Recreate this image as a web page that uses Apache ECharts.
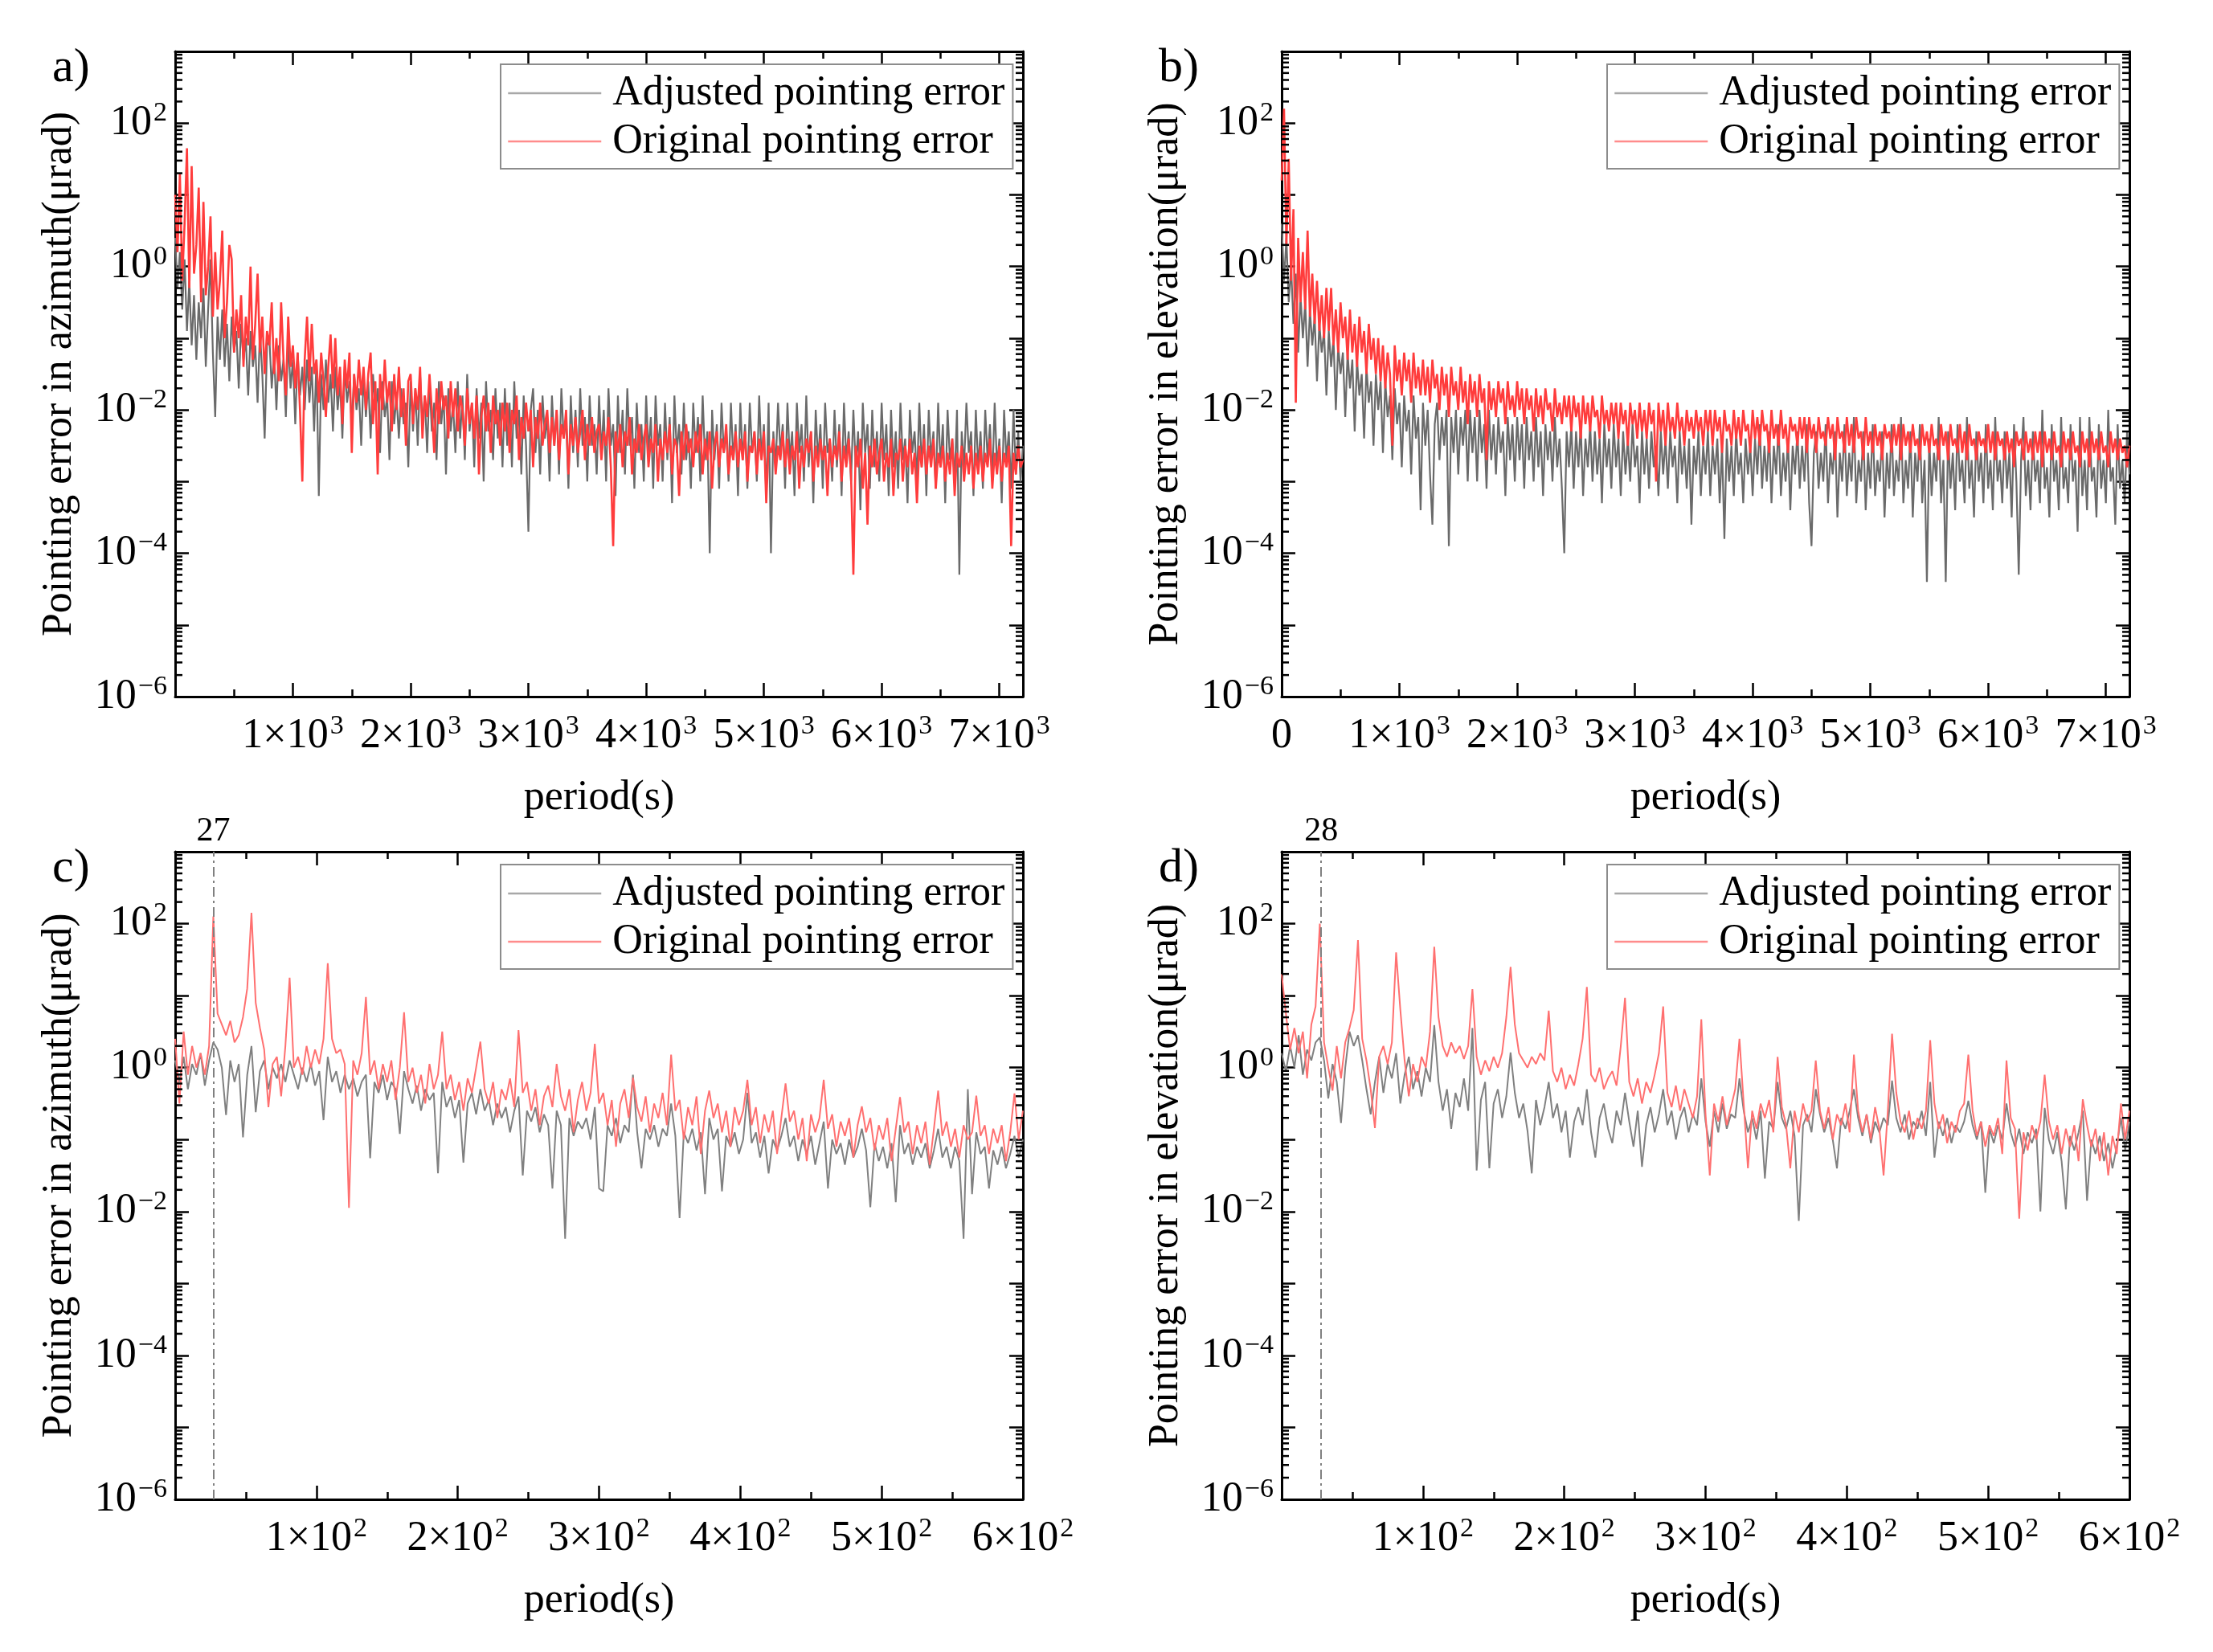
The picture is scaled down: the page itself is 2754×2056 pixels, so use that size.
<!DOCTYPE html>
<html>
<head>
<meta charset="utf-8">
<script src="https://cdn.jsdelivr.net/npm/echarts/dist/echarts.min.js"></script>
<style>
html,body{margin:0;padding:0;background:#fff}
#chart{width:2754px;height:2056px}
</style>
</head>
<body>
<div id="chart"></div>
<script>
var FONT = 'Liberation Serif';

// sample spacing of the spectra (s)
var longStep = 20;
var shortStep = 3;

// log10 of the pointing error (µrad)
// a) azimuth, 0..7200 s
var aAdjLog = [
0.4,-0.3,0.2,-0.6,0.1,-0.9,-0.2,-1.1,-0.4,-1.3,-0.5,-1.0,-0.3,-1.4,-0.6,0.1,-1.2,-2.1,-0.7,-1.3,
-0.6,-1.4,-0.8,-1.6,-0.7,-1.2,-0.9,-1.7,-0.8,-1.3,-1.0,-1.8,-0.9,-1.4,-1.1,-1.9,-0.9,-1.5,-2.4,-1.1,
-1.0,-1.7,-1.2,-2.0,-1.1,-1.6,-1.3,-2.1,-1.0,-1.7,-1.3,-2.2,-1.2,-1.8,-1.4,-2.0,-1.3,-1.9,-1.4,-2.3,
-1.3,-3.2,-1.5,-2.0,-1.3,-1.9,-1.5,-2.3,-1.4,-2.0,-1.6,-2.4,-1.4,-1.9,-1.6,-2.2,-1.5,-2.0,-1.7,-2.5,
-1.5,-2.1,-1.6,-2.4,-1.5,-2.0,-1.7,-2.6,-1.6,-2.1,-1.8,-2.7,-1.6,-2.2,-1.8,-2.4,-1.7,-2.2,-1.9,-2.8,
-1.6,-2.3,-1.7,-2.5,-1.5,-2.2,-1.8,-2.6,-1.6,-2.3,-1.9,-2.7,-1.6,-2.2,-1.8,-2.9,-1.7,-2.3,-1.9,-2.6,
-1.6,-2.4,-1.8,-2.7,-1.5,-2.3,-1.9,-2.8,-1.7,-2.4,-1.9,-3.0,-1.6,-2.3,-2.0,-2.7,-1.7,-2.4,-1.9,-2.8,
-1.7,-2.5,-1.9,-2.8,-1.6,-2.4,-2.0,-2.9,-1.8,-2.5,-3.7,-2.0,-1.7,-2.6,-2.0,-2.9,-1.8,-2.4,-2.1,-3.0,
-1.8,-2.5,-2.0,-2.9,-1.7,-2.4,-2.1,-3.1,-1.8,-2.6,-2.0,-2.8,-1.7,-2.5,-2.1,-3.0,-1.8,-2.5,-2.2,-2.9,
-1.8,-2.6,-2.0,-3.0,-1.7,-2.5,-2.2,-3.2,-1.8,-2.6,-2.0,-2.9,-1.7,-2.5,-2.1,-3.1,-1.9,-2.6,-2.2,-3.0,
-1.8,-2.6,-2.1,-3.1,-1.8,-2.5,-2.2,-3.0,-1.9,-2.7,-2.1,-3.3,-1.8,-2.6,-2.2,-2.9,-1.9,-2.7,-2.3,-3.1,
-1.9,-2.6,-2.1,-3.0,-1.8,-2.7,-2.3,-4.0,-2.0,-2.7,-2.2,-3.1,-1.9,-2.6,-2.3,-3.0,-1.9,-2.7,-2.2,-3.2,
-1.9,-2.7,-2.2,-3.1,-1.9,-2.6,-2.3,-3.0,-1.8,-2.7,-2.2,-3.2,-1.9,-4.0,-2.3,-2.8,-1.9,-2.6,-2.2,-3.1,
-1.9,-2.7,-2.3,-3.2,-1.9,-2.6,-2.2,-3.0,-1.8,-2.8,-2.3,-3.3,-2.0,-2.7,-2.2,-3.1,-1.9,-2.6,-2.4,-3.0,
-2.0,-2.8,-2.2,-3.2,-1.9,-2.7,-2.3,-3.0,-2.0,-2.8,-2.3,-3.4,-1.9,-2.6,-2.2,-3.1,-2.0,-2.8,-2.3,-3.0,
-1.9,-2.7,-2.2,-3.2,-2.0,-2.8,-2.3,-3.1,-1.9,-2.7,-2.4,-3.3,-2.0,-2.6,-2.3,-3.0,-1.9,-2.8,-2.2,-3.2,
-2.0,-2.7,-2.3,-3.1,-1.9,-2.8,-2.2,-3.3,-2.0,-2.7,-2.4,-3.0,-2.0,-4.3,-2.3,-2.8,-1.9,-2.6,-2.3,-3.2,
-2.0,-2.8,-2.3,-3.1,-2.0,-2.7,-2.2,-3.0,-1.9,-2.8,-2.4,-3.3,-2.0,-2.7,-2.3,-3.1,-2.0,-2.9,-2.3,-3.0,
-2.5
];
var aOrigLog = [
1.0,0.2,1.3,-0.2,0.6,1.65,-0.3,1.4,-0.1,0.3,1.1,-0.5,0.9,-0.4,0.0,0.7,-0.7,0.2,-0.6,-0.2,
0.5,-1.0,-0.5,0.3,0.1,-1.2,-0.6,-1.0,-0.4,-1.4,-0.7,-1.1,0.0,-1.3,-0.8,-0.1,-1.2,-0.7,-1.5,-0.9,
-1.1,-0.5,-1.5,-1.0,-1.6,-0.5,-1.3,-1.8,-0.7,-1.4,-1.1,-1.7,-1.2,-2.0,-3.0,-1.3,-0.7,-1.6,-0.8,-1.5,
-1.3,-1.9,-1.2,-1.6,-2.1,-1.4,-0.95,-1.7,-1.0,-1.8,-1.4,-2.2,-1.3,-1.7,-1.2,-2.6,-1.5,-1.9,-1.3,-1.8,
-1.4,-2.0,-1.5,-1.2,-2.2,-1.6,-2.9,-1.5,-2.0,-1.3,-1.9,-1.6,-2.3,-1.5,-2.0,-1.4,-2.1,-1.7,-2.5,-1.6,
-1.5,-2.2,-1.7,-2.0,-1.4,-2.4,-1.8,-2.1,-1.5,-2.0,-2.6,-1.7,-2.2,-1.6,-2.0,-1.8,-2.4,-1.6,-2.1,-1.7,
-2.3,-1.8,-2.0,-2.5,-1.7,-2.2,-1.9,-2.4,-1.8,-2.9,-2.1,-1.8,-2.3,-1.9,-2.6,-1.8,-2.2,-2.0,-2.5,-1.9,
-2.3,-1.9,-2.6,-2.0,-2.2,-1.8,-2.7,-2.1,-2.4,-1.9,-2.3,-2.0,-2.8,-2.1,-2.4,-1.9,-2.5,-2.2,-2.0,-2.6,
-2.1,-2.5,-2.0,-2.7,-2.2,-2.4,-2.0,-2.9,-2.2,-2.5,-2.1,-2.6,-2.3,-2.0,-2.7,-2.2,-2.5,-2.1,-2.6,-2.3,
-2.2,-2.7,-2.3,-2.5,-2.1,-2.8,-3.9,-2.3,-2.6,-2.2,-2.8,-2.3,-2.5,-2.1,-2.9,-2.4,-2.6,-2.2,-2.7,-2.4,
-2.2,-2.8,-2.4,-2.6,-2.2,-3.0,-2.4,-2.7,-2.3,-2.6,-2.2,-2.9,-2.4,-2.5,-3.2,-2.3,-2.7,-2.2,-2.6,-2.4,
-2.8,-2.3,-2.6,-2.2,-2.9,-2.4,-2.7,-2.3,-3.1,-2.5,-2.3,-2.8,-2.4,-2.6,-2.2,-2.9,-2.5,-2.7,-2.3,-2.8,
-2.4,-2.7,-2.3,-3.0,-2.5,-2.6,-2.3,-2.9,-2.4,-2.7,-2.3,-3.3,-2.5,-2.6,-2.4,-2.9,-2.5,-2.7,-2.3,-2.8,
-2.4,-2.9,-2.5,-2.7,-2.3,-3.1,-2.5,-2.8,-2.4,-2.6,-2.3,-3.0,-2.5,-2.8,-2.4,-2.7,-2.5,-3.2,-2.4,-2.8,
-2.5,-2.7,-2.3,-3.0,-2.5,-2.8,-2.4,-2.9,-4.3,-2.5,-2.8,-2.4,-3.1,-2.6,-3.6,-2.5,-2.8,-2.4,-2.9,-2.6,
-2.4,-3.0,-2.6,-2.8,-2.4,-3.2,-2.6,-2.7,-2.4,-3.0,-2.5,-2.8,-2.4,-2.9,-2.6,-3.3,-2.5,-2.8,-2.4,-2.9,
-2.5,-2.8,-2.4,-3.1,-2.6,-2.8,-2.5,-3.0,-2.6,-2.9,-2.4,-3.2,-2.6,-2.8,-2.5,-3.0,-2.6,-2.9,-2.5,-3.1,
-2.6,-2.9,-2.5,-3.0,-2.6,-2.8,-2.4,-3.1,-2.6,-2.9,-2.5,-3.0,-2.6,-2.8,-2.5,-3.9,-2.6,-2.9,-2.5,-2.8,
-2.7
];
// b) elevation, 0..7200 s
var bAdjLog = [
0.6,-0.2,0.4,-0.5,0.0,-0.8,-0.1,-1.2,-0.4,-1.0,-0.5,-1.4,-0.6,-1.1,-0.7,-1.6,-0.8,-1.2,-0.9,-1.8,
-0.9,-1.4,-1.0,-2.0,-1.1,-1.5,-1.2,-2.1,-1.2,-1.7,-1.3,-2.3,-1.3,-1.8,-1.5,-2.4,-1.4,-1.9,-1.6,-2.5,
-1.5,-2.0,-1.6,-2.6,-1.6,-2.1,-1.8,-2.7,-1.7,-2.2,-1.9,-2.8,-1.8,-2.3,-2.0,-2.9,-1.8,-2.4,-2.1,-3.4,
-1.9,-2.5,-2.0,-2.9,-3.6,-2.2,-1.9,-2.7,-2.1,-2.5,-2.0,-3.9,-2.1,-2.6,-2.0,-2.9,-2.1,-2.5,-2.0,-3.0,
-2.0,-2.6,-2.1,-3.0,-2.0,-2.6,-2.2,-3.1,-2.0,-2.7,-2.2,-2.9,-2.1,-2.6,-2.3,-3.2,-2.1,-2.7,-2.2,-3.0,
-2.1,-2.7,-2.2,-3.1,-2.1,-2.7,-2.3,-3.0,-2.1,-2.8,-2.3,-3.2,-2.2,-2.7,-2.3,-3.0,-2.1,-2.8,-2.4,-3.1,
-4.0,-2.3,-2.8,-2.2,-3.1,-2.3,-2.8,-2.2,-3.2,-2.4,-2.8,-2.2,-3.0,-2.3,-2.9,-2.4,-3.3,-2.2,-2.8,-2.4,
-3.1,-2.2,-2.8,-2.4,-3.2,-2.3,-2.9,-2.4,-3.0,-2.2,-2.8,-2.5,-3.3,-2.3,-2.9,-2.4,-3.1,-2.3,-2.8,-2.5,
-3.2,-2.3,-2.9,-2.4,-3.1,-2.3,-2.8,-2.5,-3.3,-2.3,-2.9,-2.5,-3.1,-2.4,-3.6,-2.5,-2.9,-2.3,-3.2,-2.5,
-2.9,-2.3,-3.2,-2.5,-2.9,-2.4,-3.3,-2.5,-3.8,-2.4,-3.0,-2.5,-3.2,-2.3,-2.9,-2.6,-3.3,-2.4,-2.9,-2.5,
-3.2,-2.4,-2.9,-2.2,-3.1,-2.5,-3.0,-2.3,-3.3,-2.5,-2.9,-2.2,-3.2,-2.6,-3.0,-2.4,-3.4,-2.5,-2.9,-2.3,
-3.1,-2.5,-3.0,-2.2,-3.3,-3.9,-2.6,-2.3,-3.1,-2.6,-3.0,-2.2,-3.3,-2.6,-2.9,-2.3,-3.5,-2.6,-3.0,-2.2,
-3.2,-2.6,-3.0,-2.1,-3.3,-2.7,-3.0,-2.3,-3.4,-2.6,-3.1,-2.2,-3.2,-2.7,-3.0,-2.3,-3.5,-2.6,-3.1,-2.2,
-3.2,-2.7,-3.0,-2.1,-3.3,-2.7,-3.1,-2.3,-3.5,-2.6,-3.0,-2.2,-3.3,-2.7,-4.4,-2.4,-3.2,-2.6,-3.0,-2.1,
-3.3,-2.7,-4.4,-2.3,-3.1,-2.6,-3.4,-2.2,-3.0,-2.7,-3.3,-2.1,-3.1,-2.7,-3.5,-2.3,-3.0,-2.6,-3.3,-2.2,
-3.1,-2.7,-3.4,-2.1,-3.0,-2.7,-3.3,-2.3,-3.1,-2.6,-3.5,-2.2,-3.0,-4.3,-2.7,-2.1,-3.2,-2.7,-3.4,-2.3,
-3.0,-2.7,-3.3,-2.0,-3.1,-2.8,-3.5,-2.2,-3.0,-2.7,-3.4,-2.1,-3.1,-2.8,-3.3,-2.2,-3.0,-2.7,-3.7,-2.1,
-3.2,-2.7,-3.4,-2.1,-3.0,-2.8,-3.5,-2.2,-3.1,-2.7,-3.3,-2.0,-3.0,-2.8,-3.6,-2.2,-3.1,-2.7,-3.3,-2.3,
-2.9
];
var bOrigLog = [
1.2,2.2,0.3,1.5,-0.2,0.8,-1.9,0.4,-0.5,0.2,-0.6,0.5,-0.7,-0.1,-0.8,-0.2,-0.9,-0.4,-1.0,-0.3,
-0.9,-0.3,-1.1,-0.6,-1.2,-0.5,-1.0,-0.7,-1.3,-0.6,-1.2,-0.8,-1.4,-0.7,-1.2,-0.9,-1.5,-0.8,-1.3,-1.0,
-1.5,-1.0,-1.6,-1.1,-1.7,-1.2,-1.5,-2.5,-1.1,-1.6,-1.3,-1.8,-1.2,-1.6,-1.3,-1.9,-1.2,-1.7,-1.4,-1.8,
-1.3,-1.8,-1.4,-1.9,-1.3,-1.7,-1.5,-2.0,-1.4,-1.8,-1.5,-2.1,-1.4,-1.8,-1.6,-2.0,-1.4,-1.9,-1.6,-2.2,
-1.5,-1.9,-1.6,-2.1,-1.5,-1.9,-1.7,-2.7,-1.6,-2.0,-1.7,-2.1,-1.6,-1.9,-1.7,-2.2,-1.6,-2.0,-1.8,-2.1,
-1.6,-2.0,-1.7,-2.2,-1.7,-2.0,-1.8,-2.3,-1.7,-2.1,-1.8,-2.2,-1.7,-2.0,-1.9,-2.3,-1.7,-2.1,-1.9,-2.2,
-1.8,-2.1,-1.8,-2.3,-1.8,-2.1,-1.9,-2.4,-1.8,-2.2,-1.9,-2.3,-1.8,-2.1,-2.0,-2.4,-1.8,-2.2,-2.0,-2.3,
-1.9,-2.2,-1.9,-2.4,-1.9,-2.2,-2.0,-2.5,-1.9,-2.2,-2.0,-2.4,-1.9,-2.3,-2.0,-2.4,-1.9,-2.2,-2.0,-3.0,
-1.9,-2.3,-2.0,-2.5,-1.9,-2.3,-2.1,-2.4,-1.9,-2.3,-2.1,-2.5,-2.0,-2.3,-2.1,-2.4,-2.0,-2.3,-2.1,-2.5,
-2.0,-2.3,-2.0,-2.5,-2.0,-2.3,-2.1,-2.6,-2.0,-2.3,-2.2,-2.5,-2.0,-2.4,-2.1,-2.5,-2.0,-2.3,-2.2,-2.6,
-2.0,-2.4,-2.1,-2.5,-2.0,-2.3,-2.2,-2.6,-2.0,-2.4,-2.2,-2.5,-2.0,-2.4,-2.2,-2.6,-2.1,-2.3,-2.2,-2.5,
-2.1,-2.4,-2.1,-2.6,-2.1,-2.4,-2.2,-2.6,-2.1,-2.4,-2.3,-2.5,-2.1,-2.4,-2.2,-2.7,-2.1,-2.4,-2.3,-2.6,
-2.1,-2.5,-2.2,-2.6,-2.1,-2.4,-2.3,-2.7,-2.1,-2.5,-2.3,-2.6,-2.2,-2.5,-2.3,-2.7,-2.2,-2.4,-2.3,-2.6,
-2.2,-2.5,-2.2,-2.7,-2.2,-2.5,-2.3,-2.6,-2.2,-2.5,-2.4,-2.7,-2.2,-2.5,-2.3,-2.6,-2.2,-2.5,-2.4,-2.7,
-2.2,-2.5,-2.3,-2.7,-2.2,-2.5,-2.4,-2.6,-2.2,-2.6,-2.3,-2.7,-2.2,-2.5,-2.4,-2.7,-2.3,-2.5,-2.4,-2.6,
-2.2,-2.6,-2.3,-2.7,-2.3,-2.5,-2.4,-2.7,-2.3,-2.6,-2.4,-2.8,-2.3,-2.5,-2.4,-2.7,-2.3,-2.6,-2.4,-2.7,
-2.3,-2.6,-2.3,-2.8,-2.3,-2.6,-2.4,-2.7,-2.3,-2.6,-2.5,-2.8,-2.3,-2.6,-2.4,-2.7,-2.3,-2.6,-2.5,-2.8,
-2.3,-2.6,-2.4,-2.8,-2.3,-2.6,-2.4,-2.7,-2.3,-2.6,-2.5,-2.8,-2.3,-2.6,-2.4,-2.7,-2.4,-2.6,-2.5,-2.8,
-2.5
];
// c) azimuth, 0..600 s
var cAdjLog = [
0.1,-0.2,0.15,-0.3,0.05,-0.1,0.2,-0.25,0.1,
0.35,0.25,0.0,-0.66,0.1,-0.2,0.05,-0.97,-0.1,
0.3,-0.62,-0.05,0.1,-0.3,0.0,-0.15,0.05,-0.2,
0.1,-0.1,-0.3,0.0,-0.2,0.05,-0.25,-0.05,-0.73,
0.15,-0.2,-0.05,-0.35,-0.1,-0.3,-0.15,-0.4,-0.2,
-0.1,-1.26,-0.2,-0.35,-0.1,-0.45,-0.2,-0.3,-0.92,
-0.05,-0.3,-0.5,-0.25,-0.6,-0.3,-0.45,-0.35,-1.47,
-0.2,-0.55,-0.4,-0.7,-0.45,-1.32,-0.5,-0.35,-0.65,
-0.3,-0.6,-0.45,-0.8,-0.5,-0.7,-0.55,-0.9,-0.6,
-0.4,-1.5,-0.6,-0.75,-0.55,-0.9,-0.65,-0.8,-1.68,
-0.6,-0.8,-2.38,-0.7,-0.95,-0.75,-0.85,-0.7,-1.0,
-0.55,-1.68,-1.72,-0.8,-0.95,-0.7,-1.05,-0.8,-0.9,
-0.1,-0.9,-1.4,-0.85,-1.0,-0.8,-1.1,-0.85,-0.95,
-0.5,-0.95,-2.09,-0.9,-1.05,-0.85,-1.15,-0.9,-1.76,
-0.7,-1.0,-0.85,-1.72,-0.95,-1.1,-0.9,-1.2,-1.0,
-0.35,-1.05,-0.9,-1.25,-0.95,-1.47,-1.0,-1.15,-0.95,
-0.7,-1.1,-0.95,-1.3,-1.0,-1.2,-0.95,-1.35,-1.05,
-0.75,-1.68,-1.0,-1.2,-1.05,-1.35,-1.0,-1.25,-1.1,
-0.85,-1.15,-1.94,-1.05,-1.3,-1.1,-1.4,-1.05,-1.87,
-0.8,-1.2,-1.05,-1.35,-1.1,-1.25,-1.05,-1.4,-1.15,
-0.85,-1.25,-1.1,-1.4,-1.1,-1.3,-2.38,-0.3,-1.76,
-0.9,-1.2,-1.1,-1.68,-1.15,-1.35,-1.1,-1.4,-1.2,
-0.95,-1.25,-1.0
];
var cOrigLog = [
0.4,-0.5,0.5,-0.1,0.3,0.0,0.2,-0.1,0.3,
2.1,0.75,0.6,0.45,0.65,0.35,0.45,0.7,1.1,
2.15,0.9,0.55,0.25,-0.55,0.05,0.15,-0.4,0.3,
1.25,0.0,0.15,-0.1,0.3,0.0,0.25,0.05,0.4,
1.45,0.4,0.2,0.25,0.05,-1.95,0.1,-0.1,0.2,
0.98,-0.1,0.1,-0.3,0.05,-0.2,0.1,-0.45,0.0,
0.77,-0.2,0.0,-0.35,-0.1,-0.5,0.05,-0.3,-0.1,
0.5,-0.3,-0.1,-0.45,-0.2,-0.6,-0.15,-0.35,0.0,
0.36,-0.3,-0.5,-0.2,-0.7,-0.3,-0.45,-0.15,-0.55,
0.52,-0.35,-0.2,-0.6,-0.3,-0.8,-0.4,-0.25,-0.55,
0.05,-0.4,-0.6,-0.3,-0.9,-0.45,-0.2,-0.6,-0.35,
0.33,-0.5,-0.35,-0.8,-0.45,-1.1,-0.5,-0.3,-0.7,
-0.14,-0.55,-0.75,-0.4,-0.9,-0.5,-0.7,-0.35,-0.8,
0.18,-0.6,-0.45,-1.0,-0.55,-0.8,-0.4,-1.2,-0.6,
-0.32,-0.7,-0.5,-0.9,-0.6,-1.1,-0.55,-0.8,-0.6,
-0.17,-0.8,-0.55,-1.05,-0.65,-0.9,-0.6,-1.2,-0.7,
-0.22,-0.75,-0.6,-1.0,-0.7,-1.3,-0.65,-0.9,-0.7,
-0.17,-0.85,-0.65,-1.1,-0.75,-0.95,-0.7,-1.25,-0.8,
-0.54,-0.9,-0.7,-1.15,-0.8,-1.0,-0.7,-1.3,-0.85,
-0.41,-0.9,-0.75,-1.2,-0.8,-1.05,-0.75,-1.35,-0.85,
-0.32,-0.95,-0.75,-1.1,-0.85,-1.25,-0.8,-1.0,-0.9,
-0.39,-0.95,-0.8,-1.2,-0.85,-1.05,-0.8,-1.3,-0.9,
-0.36,-1.0,-0.6
];
// d) elevation, 0..600 s
var dAdjLog = [
0.2,-0.05,0.3,0.0,0.45,-0.1,0.25,0.1,0.35,
0.42,0.1,-0.43,0.05,-0.2,-0.77,0.0,0.5,0.3,
0.45,0.1,-0.3,-0.65,-0.2,0.15,-0.35,0.05,-0.15,
0.2,-0.5,-0.1,0.15,-0.3,-0.05,-0.4,0.0,-0.2,
0.59,-0.2,-0.6,-0.3,-0.85,-0.35,-0.55,-0.15,-0.6,
0.55,-1.43,-0.45,-0.2,-1.4,-0.5,-0.3,-0.7,-0.4,
0.21,-0.35,-0.7,-0.5,-0.88,-1.47,-0.45,-0.8,-0.55,
-0.2,-0.7,-0.5,-0.9,-0.6,-1.25,-0.75,-0.55,-0.8,
-0.3,-0.9,-1.25,-0.7,-0.5,-0.85,-1.05,-0.6,-0.8,
-0.35,-0.75,-1.1,-0.6,-1.38,-0.8,-0.55,-0.9,-0.65,
-0.3,-0.8,-0.6,-1.0,-0.7,-0.55,-0.9,-0.65,-0.8,
-0.15,-0.75,-1.1,-0.6,-0.9,-0.5,-0.85,-0.65,-0.7,
-0.15,-0.6,-0.9,-0.7,-1.0,-0.6,-1.54,-0.75,-0.85,
-0.2,-0.7,-0.85,-0.6,-0.95,-2.13,-0.8,-0.65,-0.9,
-0.3,-0.65,-0.9,-0.7,-1.0,-1.4,-0.7,-0.85,-0.6,
-0.3,-0.7,-0.95,-0.65,-1.05,-0.75,-0.9,-0.7,-0.8,
-0.18,-0.7,-0.9,-0.65,-1.0,-0.75,-0.85,-0.6,-0.95,
-0.2,-1.25,-0.75,-0.95,-0.7,-1.05,-0.8,-0.9,-0.75,
-0.46,-0.8,-1.0,-0.75,-1.74,-0.85,-1.05,-0.8,-1.0,
-0.5,-0.9,-1.1,-0.85,-1.2,-0.9,-1.05,-0.85,-2.0,
-0.56,-1.0,-1.2,-0.9,-1.3,-1.97,-0.95,-1.15,-0.9,
-0.6,-1.85,-1.0,-1.2,-0.95,-1.3,-1.05,-1.4,-1.1,
-0.7,-1.15,-0.75
];
var dOrigLog = [
1.3,0.75,0.25,0.55,0.2,0.5,-0.15,0.6,0.85,
2.0,0.35,0.0,-0.32,0.3,-0.15,0.35,0.55,0.8,
1.77,0.4,0.1,-0.3,-0.84,0.15,0.3,0.05,0.35,
1.6,0.8,0.1,-0.4,0.05,-0.2,0.15,0.0,0.5,
1.68,0.7,0.3,0.15,0.35,0.2,0.3,0.12,0.3,
1.09,0.15,-0.1,0.1,-0.05,0.15,0.0,0.2,0.7,
1.4,0.6,0.2,0.1,0.0,0.15,0.05,0.2,0.1,
0.79,-0.05,-0.2,0.0,-0.3,-0.1,-0.25,0.05,0.4,
1.12,-0.1,-0.2,0.0,-0.3,-0.15,-0.05,-0.25,0.3,
0.97,-0.2,-0.4,-0.15,-0.5,-0.2,-0.35,-0.1,0.2,
0.85,-0.35,-0.55,-0.25,-0.6,-0.3,-0.5,-0.7,-0.4,
0.67,-0.65,-1.5,-0.5,-0.75,-0.4,-0.8,-0.55,-0.3,
0.4,-0.5,-1.4,-0.6,-0.85,-0.5,-0.7,-0.45,-0.9,
0.15,-0.55,-0.8,-1.4,-0.6,-0.9,-0.5,-0.75,-0.6,
0.1,-0.6,-0.85,-0.55,-1.0,-0.65,-0.8,-0.5,-0.9,
0.18,-0.6,-0.9,-0.65,-1.0,-0.55,-0.85,-1.5,-0.6,
0.47,-0.35,-0.75,-0.9,-0.6,-1.0,-0.7,-0.85,-0.6,
0.38,-0.5,-0.85,-0.65,-1.05,-0.75,-0.9,-0.6,-0.5,
0.18,-0.6,-0.95,-0.75,-1.1,-0.8,-0.95,-0.7,-1.2,
0.1,-0.7,-0.85,-2.1,-0.9,-1.15,-0.8,-1.0,-0.75,
-0.1,-0.75,-1.0,-0.8,-1.2,-0.85,-1.1,-0.8,-1.3,
-0.44,-0.8,-1.1,-0.85,-1.3,-0.9,-1.5,-0.95,-1.2,
-0.5,-1.0,-0.6
];

var seriesNames = ['Adjusted pointing error', 'Original pointing error'];
var panelLabels = ['a)', 'b)', 'c)', 'd)'];
var yTitles = ['Pointing error in azimuth(μrad)', 'Pointing error in elevation(μrad)',
               'Pointing error in azimuth(μrad)', 'Pointing error in elevation(μrad)'];
var markPeriods = [null, null, 27, 28];

var panels = [
    {left: 218, top: 64, h: 803, xMax: 7200, xInt: 1000, exp: 3, zero: false, adj: aAdjLog, orig: aOrigLog, step: longStep, dense: true},
    {left: 1595, top: 64, h: 803, xMax: 7200, xInt: 1000, exp: 3, zero: true, adj: bAdjLog, orig: bOrigLog, step: longStep, dense: true},
    {left: 218, top: 1060, h: 806, xMax: 600, xInt: 100, exp: 2, zero: false, adj: cAdjLog, orig: cOrigLog, step: shortStep, dense: false},
    {left: 1595, top: 1060, h: 806, xMax: 600, xInt: 100, exp: 2, zero: false, adj: dAdjLog, orig: dOrigLog, step: shortStep, dense: false}
];
var plotW = 1055;

function toPairs(logs, step) {
    return logs.map(function (v, i) {
        return [i * step, Math.pow(10, v)];
    });
}

var tickRich = {
    b: {fontFamily: FONT, fontSize: 52, color: '#000', lineHeight: 58},
    s: {fontFamily: FONT, fontSize: 34, color: '#000', verticalAlign: 'top', lineHeight: 58, padding: [0, 0, 0, 2]}
};

function xLabel(p) {
    var unit = Math.pow(10, p.exp);
    return function (v) {
        if (v === 0) return p.zero ? '{b|0}' : '';
        if (v % unit !== 0) return '';
        return '{b|' + (v / unit) + '×10}{s|' + p.exp + '}';
    };
}

function yLabel(v) {
    var e = Math.round(Math.log(v) / Math.LN10);
    if (e % 2 !== 0) return '';
    return '{b|10}{s|' + (e < 0 ? '−' + (-e) : e) + '}';
}

var axisLine = {show: true, onZero: false, lineStyle: {color: '#000', width: 3}};
var majorTick = {show: true, inside: true, length: 17, lineStyle: {color: '#000', width: 2.5}};
var titleFont = {fontFamily: FONT, fontSize: 52, color: '#000'};

// log axis minor tick positions (2..9 x 10^k)
var logMinor = [];
for (var e = -6; e < 3; e++) {
    for (var m = 2; m < 10; m++) logMinor.push(m * Math.pow(10, e));
}

var grid = [], xAxis = [], yAxis = [], series = [], legend = [], title = [];

panels.forEach(function (p, g) {
    grid.push({left: p.left, top: p.top, width: plotW, height: p.h});

    xAxis.push({
        gridIndex: g, type: 'value', min: 0, max: p.xMax, interval: p.xInt, position: 'bottom',
        axisLine: axisLine, axisTick: majorTick,
        minorTick: {show: true, splitNumber: 2, length: 9, lineStyle: {color: '#000', width: 2.5}},
        splitLine: {show: false},
        axisLabel: {margin: 20, formatter: xLabel(p), rich: tickRich, showMaxLabel: true},
        name: 'period(s)', nameLocation: 'middle', nameGap: 100, nameTextStyle: titleFont
    });
    xAxis.push({
        gridIndex: g, type: 'value', min: 0, max: p.xMax, interval: p.xInt, position: 'top',
        axisLine: axisLine, axisTick: majorTick,
        minorTick: {show: true, splitNumber: 2, length: 9, lineStyle: {color: '#000', width: 2.5}},
        splitLine: {show: false}, axisLabel: {show: false}
    });
    yAxis.push({
        gridIndex: g, type: 'log', logBase: 10, min: 1e-6, max: 1e3, position: 'left',
        axisLine: axisLine, axisTick: majorTick, splitLine: {show: false},
        axisLabel: {margin: 10, formatter: yLabel, rich: tickRich, showMaxLabel: false},
        name: yTitles[g], nameLocation: 'middle', nameGap: 118, nameRotate: 90, nameTextStyle: titleFont
    });
    yAxis.push({
        gridIndex: g, type: 'log', logBase: 10, min: 1e-6, max: 1e3, position: 'right',
        axisLine: axisLine, axisTick: majorTick, splitLine: {show: false}, axisLabel: {show: false}
    });

    var adjSeries = {
        name: seriesNames[0], type: 'line', xAxisIndex: 2 * g, yAxisIndex: 2 * g,
        data: toPairs(p.adj, p.step), symbol: 'none', silent: true, z: 2,
        lineStyle: {color: p.dense ? '#6a6a6a' : '#808080', width: p.dense ? 2.2 : 2},
        itemStyle: {color: '#9a9a9a'}
    };
    if (markPeriods[g] !== null) {
        adjSeries.markLine = {
            silent: true, symbol: ['none', 'none'], animation: false,
            lineStyle: {color: '#808080', width: 2, type: [12, 5, 3, 5]},
            label: {show: true, position: 'end', formatter: String(markPeriods[g]),
                    fontFamily: FONT, fontSize: 42, color: '#000', distance: 4},
            data: [{xAxis: markPeriods[g]}]
        };
    }
    series.push(adjSeries);
    series.push({
        name: seriesNames[1], type: 'line', xAxisIndex: 2 * g, yAxisIndex: 2 * g,
        data: toPairs(p.orig, p.step), symbol: 'none', silent: true, z: 3,
        lineStyle: {color: p.dense ? '#ff3c3c' : '#ff7070', width: p.dense ? 2.6 : 2},
        itemStyle: {color: '#ff8a8a'}
    });

    // minor ticks of the log axes, drawn on both sides of the frame
    series.push({
        type: 'custom', xAxisIndex: 2 * g, yAxisIndex: 2 * g, silent: true, clip: false, z: 10,
        data: logMinor.map(function (v) { return [0, v]; }),
        renderItem: (function (xMax) {
            return function (params, api) {
                var v = api.value(1);
                var l = api.coord([0, v]);
                var r = api.coord([xMax, v]);
                var st = {stroke: '#000', lineWidth: 2.5};
                return {type: 'group', children: [
                    {type: 'line', shape: {x1: l[0], y1: l[1], x2: l[0] + 9, y2: l[1]}, style: st},
                    {type: 'line', shape: {x1: r[0] - 9, y1: r[1], x2: r[0], y2: r[1]}, style: st}
                ]};
            };
        })(p.xMax)
    });

    var hidden = {color: 'rgba(0,0,0,0)', borderWidth: 0, opacity: 0};
    legend.push({
        orient: 'vertical', left: p.left + 405, top: p.top + 16,
        itemWidth: 116, itemHeight: 14, itemGap: 8,
        padding: [10, 10, 8, 8],
        borderColor: '#8c8c8c', borderWidth: 2, backgroundColor: '#fff',
        selectedMode: false,
        textStyle: {fontFamily: FONT, fontSize: 52, color: '#000', padding: [0, 0, 0, 9]},
        data: [
            {name: seriesNames[0], itemStyle: hidden, lineStyle: {color: '#a8a8a8', width: 2.5}},
            {name: seriesNames[1], itemStyle: hidden, lineStyle: {color: '#ff8c8c', width: 2.5}}
        ]
    });

    title.push({
        text: panelLabels[g], left: p.left - 158, top: p.top - 14,
        textStyle: {fontFamily: FONT, fontSize: 60, fontWeight: 'normal', color: '#000'}
    });
});

var chart = echarts.init(document.getElementById('chart'));
chart.setOption({
    animation: false,
    backgroundColor: '#fff',
    textStyle: {fontFamily: FONT},
    title: title,
    legend: legend,
    grid: grid,
    xAxis: xAxis,
    yAxis: yAxis,
    series: series
});
</script>
</body>
</html>
